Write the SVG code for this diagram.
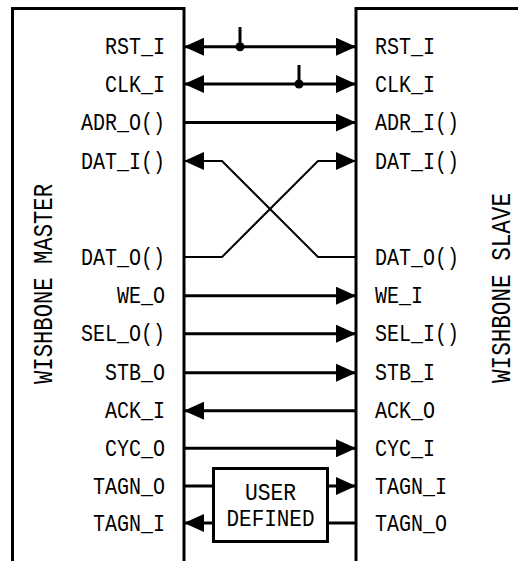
<svg xmlns="http://www.w3.org/2000/svg" width="518" height="561" viewBox="0 0 518 561">
<style>
.box{fill:none;stroke:#000;stroke-width:3}
.w{stroke:#000;stroke-width:3;fill:none}
.t{stroke:#000;stroke-width:2;fill:none}
text{font-family:"Liberation Mono","Courier New",monospace;font-size:24px;fill:#000}
.big{font-size:27px}
</style>
<defs>
<marker id="ah" markerUnits="userSpaceOnUse" viewBox="0 0 20 18" refX="20" refY="9" markerWidth="20" markerHeight="18" orient="auto-start-reverse">
<path d="M0,0 L20,9 L0,18 z" fill="#000"/>
</marker>
</defs>
<rect width="518" height="561" fill="#fff"/>
<g id="master">
<path class="box" d="M12.5,565 V8.5 H184 V565"/>
<text class="big" transform="translate(51.5,284) rotate(-90)" text-anchor="middle" textLength="200" lengthAdjust="spacingAndGlyphs">WISHBONE MASTER</text>
<text x="105" y="54" textLength="60" lengthAdjust="spacingAndGlyphs">RST_I</text>
<text x="105" y="91.5" textLength="60" lengthAdjust="spacingAndGlyphs">CLK_I</text>
<text x="81" y="130" textLength="84" lengthAdjust="spacingAndGlyphs">ADR_O()</text>
<text x="81" y="168.5" textLength="84" lengthAdjust="spacingAndGlyphs">DAT_I()</text>
<text x="81" y="264.5" textLength="84" lengthAdjust="spacingAndGlyphs">DAT_O()</text>
<text x="117" y="303" textLength="48" lengthAdjust="spacingAndGlyphs">WE_O</text>
<text x="81" y="341" textLength="84" lengthAdjust="spacingAndGlyphs">SEL_O()</text>
<text x="105" y="380" textLength="60" lengthAdjust="spacingAndGlyphs">STB_O</text>
<text x="105" y="418" textLength="60" lengthAdjust="spacingAndGlyphs">ACK_I</text>
<text x="105" y="455.5" textLength="60" lengthAdjust="spacingAndGlyphs">CYC_O</text>
<text x="93" y="493.5" textLength="72" lengthAdjust="spacingAndGlyphs">TAGN_O</text>
<text x="93" y="530.5" textLength="72" lengthAdjust="spacingAndGlyphs">TAGN_I</text>
</g>
<g id="slave">
<path class="box" d="M356,565 V8.5 H525"/>
<text class="big" transform="translate(510,288) rotate(-90)" text-anchor="middle" textLength="190" lengthAdjust="spacingAndGlyphs">WISHBONE SLAVE</text>
<text x="375" y="54" textLength="60" lengthAdjust="spacingAndGlyphs">RST_I</text>
<text x="375" y="91.5" textLength="60" lengthAdjust="spacingAndGlyphs">CLK_I</text>
<text x="375" y="130" textLength="84" lengthAdjust="spacingAndGlyphs">ADR_I()</text>
<text x="375" y="168.5" textLength="84" lengthAdjust="spacingAndGlyphs">DAT_I()</text>
<text x="375" y="264.5" textLength="84" lengthAdjust="spacingAndGlyphs">DAT_O()</text>
<text x="375" y="303" textLength="48" lengthAdjust="spacingAndGlyphs">WE_I</text>
<text x="375" y="341" textLength="84" lengthAdjust="spacingAndGlyphs">SEL_I()</text>
<text x="375" y="380" textLength="60" lengthAdjust="spacingAndGlyphs">STB_I</text>
<text x="375" y="418" textLength="60" lengthAdjust="spacingAndGlyphs">ACK_O</text>
<text x="375" y="455.5" textLength="60" lengthAdjust="spacingAndGlyphs">CYC_I</text>
<text x="375" y="493.5" textLength="72" lengthAdjust="spacingAndGlyphs">TAGN_I</text>
<text x="375" y="530.5" textLength="72" lengthAdjust="spacingAndGlyphs">TAGN_O</text>
</g>
<g id="user-defined">
<rect class="box" x="213.5" y="468.5" width="114" height="73"/>
<text x="245" y="500" font-size="23" textLength="51" lengthAdjust="spacingAndGlyphs">USER</text>
<text x="226.5" y="526" font-size="23" textLength="88" lengthAdjust="spacingAndGlyphs">DEFINED</text>
</g>
<g id="connectors">
<line class="w" x1="184" y1="46.7" x2="356" y2="46.7" marker-start="url(#ah)" marker-end="url(#ah)"/>
<line class="w" x1="240" y1="27" x2="240" y2="46.7"/>
<circle cx="240" cy="46.7" r="4.5" fill="#000"/>
<line class="w" x1="184" y1="84" x2="356" y2="84" marker-start="url(#ah)" marker-end="url(#ah)"/>
<line class="w" x1="299" y1="65" x2="299" y2="84"/>
<circle cx="299" cy="84" r="4.5" fill="#000"/>
<line class="w" x1="184" y1="122.5" x2="356" y2="122.5" marker-end="url(#ah)"/>
<polyline class="t" points="184,161 222,161 318,257 356,257" marker-start="url(#ah)"/>
<polyline class="t" points="184,257 222,257 318,161 356,161" marker-end="url(#ah)"/>
<line class="w" x1="184" y1="295.7" x2="356" y2="295.7" marker-end="url(#ah)"/>
<line class="w" x1="184" y1="333.7" x2="356" y2="333.7" marker-end="url(#ah)"/>
<line class="w" x1="184" y1="372.7" x2="356" y2="372.7" marker-end="url(#ah)"/>
<line class="w" x1="356" y1="410.7" x2="184" y2="410.7" marker-end="url(#ah)"/>
<line class="w" x1="184" y1="448.3" x2="356" y2="448.3" marker-end="url(#ah)"/>
<line class="w" x1="184" y1="486" x2="213.5" y2="486"/>
<line class="w" x1="327.5" y1="486" x2="356" y2="486" marker-end="url(#ah)"/>
<line class="w" x1="213.5" y1="523" x2="184" y2="523" marker-end="url(#ah)"/>
<line class="w" x1="327.5" y1="523" x2="356" y2="523"/>
</g>
</svg>
